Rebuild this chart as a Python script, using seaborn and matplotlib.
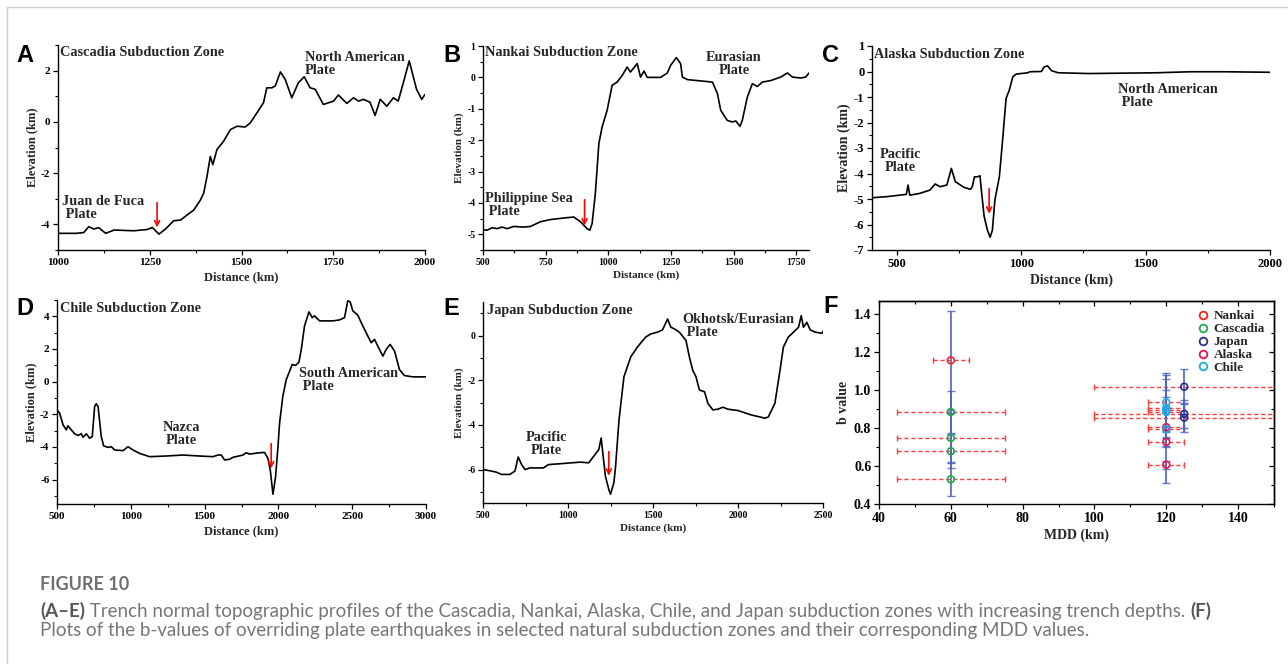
import matplotlib
matplotlib.use("Agg")
import matplotlib.pyplot as plt
from matplotlib.ticker import MultipleLocator, AutoMinorLocator
from matplotlib.lines import Line2D
import seaborn as sns
import pandas as pd

# ---------------- data ----------------
cascadia_dist = [1000, 1050, 1070, 1084, 1097, 1111, 1130, 1153, 1207, 1243, 1257, 1275, 1293, 1315, 1334, 1352,
                 1370, 1388, 1397, 1406, 1415, 1422, 1433, 1451, 1470, 1488, 1510, 1524, 1542, 1560, 1569, 1583,
                 1592, 1606, 1619, 1637, 1655, 1671, 1687, 1701, 1723, 1751, 1764, 1787, 1805, 1819, 1832, 1850,
                 1864, 1878, 1896, 1914, 1927, 1941, 1957, 1977, 1991, 2000]
cascadia_elev = [-4.35, -4.35, -4.32, -4.09, -4.18, -4.13, -4.35, -4.22, -4.25, -4.2, -4.12, -4.38, -4.18, -3.86,
                 -3.83, -3.63, -3.44, -3.05, -2.78, -2.13, -1.35, -1.67, -1.08, -0.76, -0.3, -0.17, -0.2, -0.04,
                 0.35, 0.75, 1.33, 1.33, 1.4, 1.95, 1.66, 0.94, 1.53, 1.76, 1.33, 1.27, 0.68, 0.81, 1.05, 0.72,
                 0.94, 0.81, 0.88, 0.77, 0.25, 0.88, 0.61, 0.94, 0.81, 1.53, 2.38, 1.27, 0.88, 1.07]

nankai_dist = [500, 516, 536, 556, 576, 596, 622, 662, 689, 729, 769, 822, 862, 889, 915, 926, 935, 948, 962, 975,
               995, 1015, 1035, 1055, 1075, 1088, 1115, 1128, 1142, 1155, 1208, 1235, 1248, 1271, 1288, 1295, 1315,
               1415, 1435, 1448, 1474, 1494, 1508, 1525, 1534, 1554, 1574, 1594, 1614, 1648, 1687, 1714, 1734, 1767,
               1787, 1800]
nankai_elev = [-4.85, -4.87, -4.79, -4.82, -4.77, -4.82, -4.75, -4.77, -4.75, -4.6, -4.53, -4.48, -4.45, -4.6,
               -4.82, -4.87, -4.66, -3.7, -2.11, -1.58, -1.05, -0.25, -0.15, 0.06, 0.33, 0.17, 0.44, 0.01, 0.2, 0.0,
               0.0, 0.14, 0.38, 0.63, 0.44, 0.01, -0.07, -0.15, -0.52, -1.05, -1.37, -1.42, -1.39, -1.56, -1.37,
               -0.63, -0.2, -0.29, -0.15, -0.1, 0.01, 0.14, 0.01, -0.02, 0.01, 0.14]

alaska_dist = [400, 457, 538, 545, 552, 592, 633, 654, 674, 701, 719, 735, 769, 796, 803, 812, 823, 834, 841, 851,
               864, 875, 884, 894, 912, 925, 939, 952, 966, 980, 1027, 1034, 1081, 1092, 1106, 1122, 1149, 1272,
               1543, 1679, 1815, 2000]
alaska_elev = [-4.95, -4.91, -4.82, -4.45, -4.85, -4.78, -4.65, -4.41, -4.52, -4.45, -3.8, -4.32, -4.54, -4.62,
               -4.52, -4.13, -4.13, -4.09, -4.78, -5.69, -6.22, -6.5, -6.22, -5.04, -4.13, -2.69, -1.06, -0.73,
               -0.21, -0.1, -0.05, -0.01, 0.0, 0.18, 0.22, 0.03, -0.05, -0.08, -0.05, -0.01, -0.01, -0.03]

chile_dist = [500, 518, 541, 563, 574, 597, 620, 642, 665, 676, 699, 721, 739, 755, 766, 778, 800, 816, 845, 868,
              891, 947, 981, 1015, 1060, 1128, 1240, 1353, 1466, 1556, 1590, 1613, 1635, 1669, 1692, 1760, 1782,
              1805, 1872, 1906, 1929, 1945, 1963, 1981, 1997, 2008, 2030, 2053, 2076, 2094, 2116, 2139, 2155, 2177,
              2207, 2229, 2245, 2279, 2369, 2414, 2448, 2470, 2486, 2504, 2538, 2572, 2606, 2629, 2651, 2685, 2708,
              2730, 2757, 2787, 2820, 2854, 2911, 3000]
chile_elev = [-1.73, -1.93, -2.65, -2.96, -2.71, -2.96, -3.2, -3.3, -3.2, -3.41, -3.2, -3.47, -3.37, -1.52, -1.36,
              -1.52, -3.37, -3.94, -4.03, -3.99, -4.19, -4.23, -3.99, -4.19, -4.4, -4.6, -4.56, -4.5, -4.56, -4.6,
              -4.5, -4.5, -4.8, -4.76, -4.64, -4.5, -4.36, -4.44, -4.36, -4.34, -4.7, -5.42, -6.9, -5.83, -3.99,
              -2.55, -0.9, 0.12, 0.64, 1.05, 0.99, 1.19, 1.97, 3.41, 4.27, 3.92, 4.03, 3.72, 3.72, 3.78, 3.92, 4.95,
              4.89, 4.34, 4.07, 3.41, 2.79, 2.38, 2.59, 1.97, 1.56, 1.97, 2.28, 1.87, 0.74, 0.37, 0.29, 0.29]

japan_dist = [500, 549, 579, 609, 658, 688, 707, 727, 747, 776, 855, 885, 974, 1072, 1122, 1151, 1181, 1195, 1207,
              1220, 1240, 1250, 1270, 1280, 1300, 1329, 1369, 1408, 1457, 1487, 1526, 1556, 1586, 1605, 1625, 1655,
              1694, 1714, 1734, 1753, 1773, 1803, 1823, 1852, 1882, 1911, 1941, 2000, 2079, 2158, 2178, 2217, 2247,
              2267, 2296, 2336, 2356, 2372, 2385, 2405, 2425, 2454, 2494, 2500]
japan_elev = [-6.0, -6.07, -6.12, -6.22, -6.22, -6.07, -5.44, -5.78, -6.0, -5.93, -5.93, -5.78, -5.73, -5.67,
              -5.7, -5.41, -5.11, -4.59, -5.41, -6.3, -6.89, -7.11, -6.59, -5.85, -3.78, -1.85, -0.96, -0.52, -0.07,
              0.07, 0.15, 0.25, 0.74, 0.37, 0.3, 0.15, -0.22, -0.96, -1.56, -1.85, -2.44, -2.52, -3.04, -3.33,
              -3.3, -3.21, -3.3, -3.36, -3.56, -3.7, -3.65, -3.04, -1.56, -0.52, -0.07, 0.22, 0.37, 0.89, 0.37,
              0.59, 0.25, 0.15, 0.1, 0.19]

f_zone = ['Nankai', 'Cascadia', 'Cascadia', 'Cascadia', 'Cascadia', 'Japan', 'Japan', 'Japan',
          'Alaska', 'Alaska', 'Alaska', 'Chile', 'Chile', 'Chile', 'Chile', 'Chile']
f_mdd = [60, 60, 60, 60, 60, 125, 125, 125, 120, 120, 120, 120, 120, 120, 120, 120]
f_mdd_err = [5, 15, 15, 15, 15, 25, 25, 25, 5, 5, 5, 5, 5, 5, 5, 5]
f_b = [1.157, 0.885, 0.748, 0.678, 0.530, 1.018, 0.875, 0.855, 0.805, 0.727, 0.607,
       0.935, 0.905, 0.893, 0.885, 0.795]
f_b_err = [0.26, 0.11, 0.13, 0.09, 0.09, 0.093, 0.075, 0.075, 0.10, 0.025, 0.02,
           0.155, 0.155, 0.11, 0.08, 0.285]
zone_order = ['Nankai', 'Cascadia', 'Japan', 'Alaska', 'Chile']
zone_colors = ['#ff1e1e', '#21a84a', '#2b2b8f', '#e8144f', '#1ea9e3']

caption_title = "FIGURE 10"
caption_line1 = [("(A–E)", "bold"),
                 (" Trench normal topographic profiles of the Cascadia, Nankai, Alaska, Chile, and Japan "
                  "subduction zones with increasing trench depths. ", "normal"),
                 ("(F)", "bold")]
caption_line2 = [("Plots of the b-values of overriding plate earthquakes in selected natural subduction zones "
                  "and their corresponding MDD values.", "normal")]

# ---------------- style ----------------
sns.set_theme(style="ticks", rc={
    "axes.edgecolor": "black", "xtick.color": "black", "ytick.color": "black",
    "axes.linewidth": 1.0, "axes.unicode_minus": False,
})
plt.rcParams['font.family'] = ['Liberation Serif', 'DejaVu Serif']
plt.rcParams['font.weight'] = 'bold'
plt.rcParams['axes.labelweight'] = 'bold'
plt.rcParams['axes.unicode_minus'] = False

W, H = 1288, 664
fig = plt.figure(figsize=(W / 100, H / 100), dpi=100)
fig.patch.set_facecolor('white')


def px_axes(l, t, r, b):
    return fig.add_axes([l / W, 1 - b / H, (r - l) / W, (b - t) / H])


def profile(ax, dist, elev, xlim, ylim, xmaj, ymaj, tick_fs, label_fs):
    df = pd.DataFrame({"Distance": dist, "Elevation": elev})
    sns.lineplot(data=df, x="Distance", y="Elevation", ax=ax, color="black", lw=1.2,
                 sort=False, estimator=None)
    ax.set_xlim(*xlim)
    ax.set_ylim(*ylim)
    ax.xaxis.set_major_locator(MultipleLocator(xmaj))
    ax.yaxis.set_major_locator(MultipleLocator(ymaj))
    ax.xaxis.set_minor_locator(AutoMinorLocator(2))
    ax.yaxis.set_minor_locator(AutoMinorLocator(2))
    ax.tick_params(which='major', direction='out', length=3.5, width=0.9, labelsize=tick_fs, pad=2)
    ax.tick_params(which='minor', direction='out', length=2, width=0.8)
    ax.set_xlabel("Distance (km)", fontsize=label_fs, labelpad=3)
    ax.set_ylabel("Elevation (km)", fontsize=label_fs, labelpad=2)
    sns.despine(ax=ax)
    for lab in ax.get_xticklabels() + ax.get_yticklabels():
        lab.set_fontweight('bold')


def arrow(ax, x, y0, y1):
    ax.annotate('', xy=(x, y1), xytext=(x, y0),
                arrowprops=dict(arrowstyle='->', color='red', lw=1.2, shrinkA=0, shrinkB=0,
                                mutation_scale=9))


TFS = 10.3
# A
axA = px_axes(58, 45, 425, 250)
profile(axA, cascadia_dist, cascadia_elev, (1000, 2000), (-5, 3), 250, 2, 8, 9)
axA.text(1005, 2.95, "Cascadia Subduction Zone", fontsize=TFS, va='top')
axA.text(1673, 2.78, "North American\nPlate", fontsize=TFS, va='top', linespacing=1.0)
axA.text(1012, -2.85, "Juan de Fuca\n Plate", fontsize=TFS, va='top', linespacing=1.0)
arrow(axA, 1270, -3.15, -4.12)

# B
axB = px_axes(483, 46, 809, 250)
profile(axB, nankai_dist, nankai_elev, (500, 1800), (-5.5, 1), 250, 1, 7, 8)
axB.text(509, 1.0, "Nankai Subduction Zone", fontsize=TFS, va='top')
axB.text(1500, 0.85, "Eurasian\nPlate", fontsize=TFS, va='top', ha='center', linespacing=1.0)
axB.text(509, -3.66, "Philippine Sea\n Plate", fontsize=TFS, va='top', linespacing=1.0)
arrow(axB, 905, -3.9, -4.72)

# C
axC = px_axes(872, 46, 1270, 250)
profile(axC, alaska_dist, alaska_elev, (400, 2000), (-7, 1), 500, 1, 9, 10)
axC.text(409, 0.92, "Alaska Subduction Zone", fontsize=TFS, va='top')
axC.text(514, -3.0, "Pacific\nPlate", fontsize=TFS, va='top', ha='center', linespacing=1.0)
axC.text(1390, -0.45, "North American\n Plate", fontsize=TFS, va='top', linespacing=1.0)
arrow(axC, 871, -4.6, -5.58)

# D
axD = px_axes(57, 300, 426, 504)
profile(axD, chile_dist, chile_elev, (500, 3000), (-7.5, 5), 500, 2, 8, 9)
axD.text(518, 4.85, "Chile Subduction Zone", fontsize=TFS, va='top')
axD.text(1342, -2.42, "Nazca\nPlate", fontsize=TFS, va='top', ha='center', linespacing=1.0)
axD.text(2139, 0.87, "South American\n Plate", fontsize=TFS, va='top', linespacing=1.0)
arrow(axD, 1951, -3.8, -5.32)

# E
axE = px_axes(483, 302, 823, 503)
profile(axE, japan_dist, japan_elev, (500, 2500), (-7.5, 1.5), 500, 2, 7, 8)
axE.text(524, 1.4, "Japan Subduction Zone", fontsize=TFS, va='top')
axE.text(871, -4.28, "Pacific\nPlate", fontsize=TFS, va='top', ha='center', linespacing=1.0)
axE.text(1674, 1.02, "Okhotsk/Eurasian\n Plate", fontsize=TFS, va='top', linespacing=1.0)
arrow(axE, 1240, -5.2, -6.28)

# F
axF = px_axes(879, 301, 1274, 504)
dfF = pd.DataFrame({"zone": f_zone, "MDD": f_mdd, "b": f_b, "mdd_err": f_mdd_err, "b_err": f_b_err})
ex = axF.errorbar(dfF["MDD"], dfF["b"], xerr=dfF["mdd_err"], fmt='none', ecolor='#ff3b3b',
                  elinewidth=1.0, capsize=2.5, capthick=1.0, zorder=1)
for lc in ex.lines[2]:
    lc.set_linestyle((0, (3, 2)))
axF.errorbar(dfF["MDD"], dfF["b"], yerr=dfF["b_err"], fmt='none', ecolor='#4d64c4',
             elinewidth=1.4, capsize=3, capthick=1.0, alpha=0.85, zorder=2)
sns.scatterplot(data=dfF, x="MDD", y="b", hue="zone", hue_order=zone_order,
                palette=dict(zip(zone_order, zone_colors)), s=24, linewidth=1.2,
                legend=False, ax=axF, zorder=3)
pts = axF.collections[-1]
fc = pts.get_facecolors()
pts.set_edgecolors(fc)
pts.set_facecolors('none')
axF.set_xlim(40, 150)
axF.set_ylim(0.4, 1.47)
axF.xaxis.set_major_locator(MultipleLocator(20))
axF.xaxis.set_minor_locator(MultipleLocator(10))
axF.yaxis.set_major_locator(MultipleLocator(0.2))
axF.yaxis.set_minor_locator(MultipleLocator(0.1))
axF.tick_params(which='major', direction='out', length=3.5, width=0.9, labelsize=10, pad=2)
axF.tick_params(which='minor', direction='out', length=2, width=0.8)
axF.set_xlabel("MDD (km)", fontsize=10, labelpad=3)
axF.set_ylabel("b value", fontsize=10, labelpad=3)
for lab in axF.get_xticklabels() + axF.get_yticklabels():
    lab.set_fontweight('bold')
secx = axF.secondary_xaxis('top')
secx.xaxis.set_major_locator(MultipleLocator(20))
secx.xaxis.set_minor_locator(MultipleLocator(10))
secx.tick_params(which='major', direction='in', length=3.5, width=0.9, labeltop=False)
secx.tick_params(which='minor', direction='in', length=2, width=0.8)
secy = axF.secondary_yaxis('right')
secy.yaxis.set_major_locator(MultipleLocator(0.2))
secy.yaxis.set_minor_locator(MultipleLocator(0.1))
secy.tick_params(which='major', direction='in', length=3.5, width=0.9, labelright=False)
secy.tick_params(which='minor', direction='in', length=2, width=0.8)
handles = [Line2D([], [], marker='o', ls='none', mfc='none', mec=c, ms=5.5, mew=1.3)
           for c in zone_colors]
axF.legend(handles, zone_order, loc='upper right', frameon=False,
           handletextpad=0.3, labelspacing=0.05, borderaxespad=0.3, handlelength=1.0,
           prop={'weight': 'bold', 'size': 9.5})

# panel letters
for letter, (x, y) in zip("ABCDEF", [(16, 44), (443, 44), (822, 44), (16, 297), (443, 297), (823, 295)]):
    fig.text(x / W, 1 - y / H, letter, fontsize=17, fontweight='bold', family='Liberation Sans',
             va='top', ha='left', color='black')

# border lines
fig.add_artist(Line2D([7 / W, 7 / W], [0, 1 - 7 / H], transform=fig.transFigure, color='#cfcfcf', lw=1))
fig.add_artist(Line2D([7 / W, 1], [1 - 7 / H, 1 - 7 / H], transform=fig.transFigure, color='#cfcfcf', lw=1))

# caption
renderer = fig.canvas.get_renderer()


def draw_runs(x_px, y_px, runs, size, color_n, color_b):
    x = x_px
    for txt, weight in runs:
        t = fig.text(x / W, 1 - y_px / H, txt, fontsize=size, fontweight=weight, family=['Lato', 'DejaVu Sans'],
                     color=color_b if weight == 'bold' else color_n, va='baseline', ha='left')
        x += t.get_window_extent(renderer).width


draw_runs(40, 590, [(caption_title, 'bold')], 13, '#6f6f6f', '#6f6f6f')
draw_runs(40, 617, caption_line1, 13.5, '#767676', '#555555')
draw_runs(40, 636, caption_line2, 13.5, '#767676', '#555555')

fig.savefig("out.png", dpi=100, facecolor='white')
